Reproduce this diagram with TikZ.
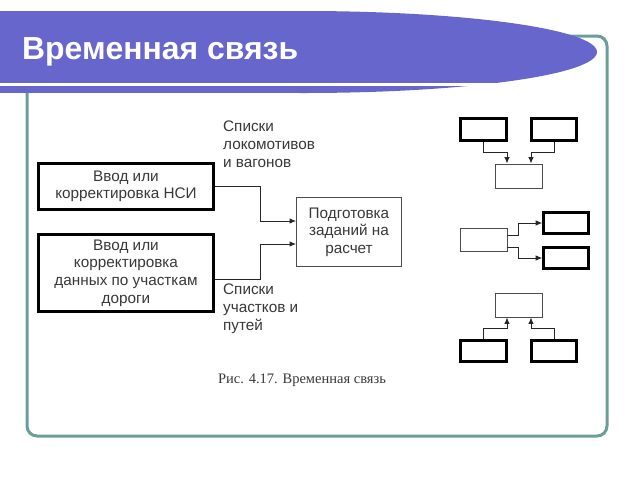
\documentclass[tikz,border=0pt]{standalone}
\usepackage{fontspec}
\setmainfont{Liberation Sans}
\newfontfamily\capfont{Liberation Serif}
\usetikzlibrary{arrows.meta}
\usetikzlibrary{positioning}
\definecolor{mbanner}{rgb}{0.4, 0.4, 0.8}
\definecolor{mframe}{rgb}{0.42, 0.62, 0.6}
\definecolor{mtext}{rgb}{0.22, 0.22, 0.22}
\tikzset{boxfont/.style = {font = \fontsize{15.3}{17.6}\selectfont, text = mtext}}
\tikzset{thickbox/.style = {draw, line width = 2.6pt, inner sep = 0, align = center, boxfont}}
\tikzset{thinbox/.style = {draw = black!70, line width = 0.9pt, inner sep = 0, align = center, boxfont}}
\tikzset{conn/.style = {line width = 0.9pt, black!85, -{Latex[length = 6.5pt, width = 5.5pt]}}}
\tikzset{lbl/.style = {anchor = north west, inner sep = 0, align = left, boxfont}}

\begin{document}
\begin{tikzpicture}[x = 1pt, y = -1pt]
    \useasboundingbox (0, 0) rectangle (640, 480);

    \draw [mframe, line width = 3pt, rounded corners = 10pt] (27, 436) rectangle (607, 36);
    \fill [mbanner] (0, 11) rectangle (304, 93);
    \fill [mbanner] (304, 52) ellipse (293 and 41);
    \draw [white, line width = 2.5pt] (0, 84.5) -- (560, 84.5);
    \node [anchor = base west, inner sep = 0, white, font = \fontsize{31.9}{38}\selectfont\bfseries] (title) at (22, 59) {Временная связь};

    \node [thickbox, minimum width = 175pt, minimum height = 46pt] (nsi) at (126, 186.5) {Ввод или\\корректировка НСИ};
    \node [thickbox, minimum width = 175pt, minimum height = 77pt] (road) at (126, 273) {Ввод или\\корректировка\\данных по участкам\\дороги};
    \node [thinbox, minimum width = 105pt, minimum height = 69pt] (prep) at (349, 232) {Подготовка\\заданий на\\расчет};
    \node [lbl] (lok) at (223, 121) {Списки\\локомотивов\\и вагонов};
    \node [lbl] (uch) at (223, 284) {Списки\\участков и\\путей};

    \draw [conn] (nsi.east) -- ++(46, 0) |- ([yshift = 11pt]prep.west);
    \draw [conn] ([yshift = -6pt]road.east) -- ++(46, 0) |- ([yshift = -12pt]prep.west);

    \node [thickbox, minimum width = 46pt, minimum height = 22pt] (ma) at (483.5, 129.5) {};
    \node [thickbox, minimum width = 45pt, minimum height = 22pt] (mb) at (554, 129.5) {};
    \node [thinbox, minimum width = 47pt, minimum height = 24pt] (mc) at (518.5, 176) {};
    \draw [conn] (ma.south) -- ++(0, 11) -| ([xshift = -11.5pt]mc.north);
    \draw [conn] (mb.south) -- ++(0, 11) -| ([xshift = 12.5pt]mc.north);

    \node [thinbox, minimum width = 47pt, minimum height = 23pt] (md) at (483.5, 239.5) {};
    \node [thickbox, minimum width = 45pt, minimum height = 21pt] (me) at (566, 223) {};
    \node [thickbox, minimum width = 45pt, minimum height = 21pt] (mf) at (566, 258) {};
    \draw [conn] ([yshift = 4.5pt]md.east) -- ++(11, 0) |- (me.west);
    \draw [conn] ([yshift = -7.5pt]md.east) -- ++(11, 0) |- (mf.west);

    \node [thinbox, minimum width = 47pt, minimum height = 24pt] (mg) at (518.5, 305) {};
    \node [thickbox, minimum width = 46pt, minimum height = 21pt] (mh) at (483.5, 351) {};
    \node [thickbox, minimum width = 45pt, minimum height = 21pt] (mi) at (554, 351) {};
    \draw [conn] (mh.north) -- ++(0, -11) -| ([xshift = -11.5pt]mg.south);
    \draw [conn] (mi.north) -- ++(0, -11) -| ([xshift = 12.5pt]mg.south);

    \node [inner sep = 0, text = mtext, font = \capfont\fontsize{14.5}{17}\selectfont] (cap) at (302, 380) {Рис. 4.17. Временная связь};
\end{tikzpicture}
\end{document}
